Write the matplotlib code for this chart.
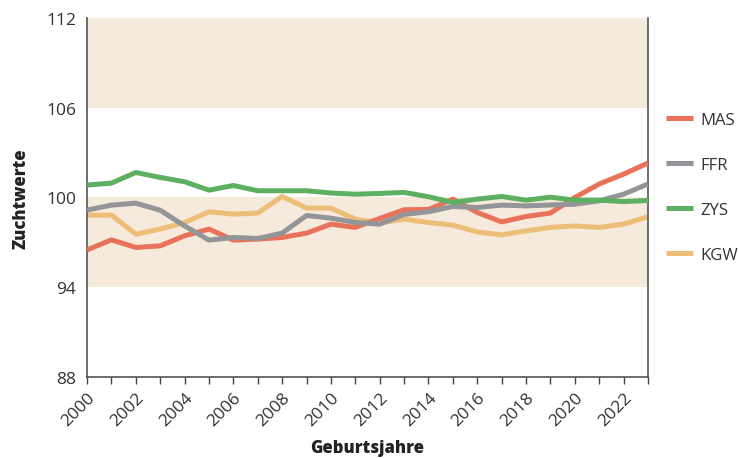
import matplotlib
matplotlib.use("Agg")
import matplotlib.pyplot as plt

years = list(range(2000, 2024))
MAS = [96.5, 97.17, 96.66, 96.77, 97.44, 97.89, 97.15, 97.22, 97.33, 97.62, 98.22, 98.0,
       98.6, 99.18, 99.2, 99.89, 99.0, 98.37, 98.73, 98.96, 100.0, 100.9, 101.56, 102.3]
FFR = [99.16, 99.49, 99.62, 99.15, 98.1, 97.15, 97.33, 97.26, 97.62, 98.8, 98.62, 98.33,
       98.22, 98.87, 99.05, 99.4, 99.33, 99.49, 99.44, 99.5, 99.55, 99.78, 100.22, 100.9]
ZYS = [100.83, 100.96, 101.67, 101.34, 101.05, 100.49, 100.8, 100.45, 100.45, 100.45, 100.3, 100.22,
       100.27, 100.34, 100.05, 99.67, 99.89, 100.07, 99.82, 100.02, 99.82, 99.82, 99.73, 99.8]
KGW = [98.82, 98.82, 97.55, 97.89, 98.33, 99.04, 98.89, 98.96, 100.07, 99.29, 99.29, 98.55,
       98.31, 98.55, 98.33, 98.15, 97.7, 97.5, 97.77, 98.0, 98.1, 98.0, 98.22, 98.71]

series_names = ["MAS", "FFR", "ZYS", "KGW"]
series_values = [MAS, FFR, ZYS, KGW]
colors = ["#E8735A", "#939598", "#5DB061", "#EDBE78"]
bands = [(106, 112), (94, 100)]
yticks = [88, 94, 100, 106, 112]

plt.rcParams['font.family'] = ['Open Sans', 'DejaVu Sans']

fig = plt.figure(figsize=(7.38, 4.6), dpi=100)
ax = fig.add_axes([0.118, 0.178, 0.76, 0.781])

for lo, hi in bands:
    ax.axhspan(lo, hi, color="#F5EADB", lw=0, zorder=0)

order = [3, 0, 1, 2]
handles = {}
for i in order:
    h, = ax.plot(years, series_values[i], color=colors[i], lw=3.6, solid_capstyle='butt',
                 label=series_names[i], zorder=2 + order.index(i))
    handles[i] = h

ax.set_xlim(2000, 2023)
ax.set_ylim(88, 112)
ax.set_yticks(yticks)
ax.set_yticklabels([str(v) for v in yticks], fontsize=12.5, color="#333333")
ax.set_xticks(years)
ax.set_xticklabels([str(y) if (y % 2 == 0 and y < 2023) else "" for y in years],
                   rotation=45, ha='right', rotation_mode='anchor', fontsize=12.5, color="#333333")
ax.tick_params(axis='x', direction='out', length=5, width=1, color="#444444", pad=4)
ax.tick_params(axis='y', length=0, pad=8)

for s in ['left', 'bottom', 'right']:
    ax.spines[s].set_color("#555555")
    ax.spines[s].set_linewidth(1.2)
ax.spines['top'].set_visible(False)

ax.set_ylabel("Zuchtwerte", fontsize=12, fontweight='heavy', color="#222222", labelpad=12)
ax.set_xlabel("Geburtsjahre", fontsize=12, fontweight='heavy', color="#222222", labelpad=7)

leg = fig.legend([handles[i] for i in range(4)], series_names, loc='upper left',
                 bbox_to_anchor=(0.903, 0.755), frameon=False, fontsize=12,
                 borderpad=0, borderaxespad=0,
                 handlelength=1.6, handletextpad=0.45, labelspacing=1.75)
for t in leg.get_texts():
    t.set_color("#333333")

fig.savefig("out.png", dpi=100)
